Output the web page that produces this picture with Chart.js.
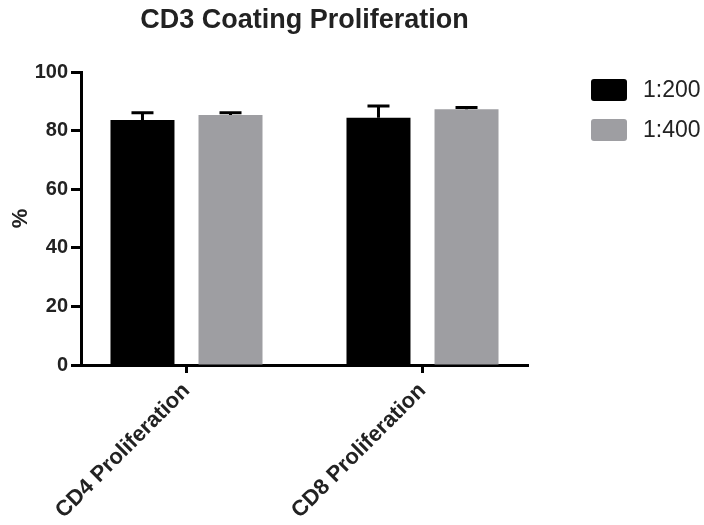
<!DOCTYPE html>
<html>
<head>
<meta charset="utf-8">
<script src="https://cdn.jsdelivr.net/npm/chart.js@4.4.1/dist/chart.umd.min.js"></script>
<style>
  html, body { margin: 0; padding: 0; background: #fff; }
  #wrap { width: 704px; height: 525px; }
</style>
</head>
<body>
<div id="wrap"><canvas id="myChart"></canvas></div>
<script>
const categories = ["CD4 Proliferation", "CD8 Proliferation"];
const seriesNames = ["1:200", "1:400"];
const values200 = [83.6, 84.4];
const errors200 = [2.5, 4.0];
const values400 = [85.3, 87.3];
const errors400 = [0.8, 0.6];
const yTicks = [0, 20, 40, 60, 80, 100];

const colors = ["#000000", "#9e9ea2"];
const fontName = "'Liberation Sans', Arial, sans-serif";

function points(vals) {
    return vals.map((v, i) => ({ x: i + 1, y: v }));
}

// draws upper error bars above each bar
const errorBars = {
    id: 'errorBars',
    afterDatasetsDraw(chart) {
        const c = chart.ctx;
        const y = chart.scales.y;
        chart.data.datasets.forEach((ds, di) => {
            const meta = chart.getDatasetMeta(di);
            meta.data.forEach((bar, i) => {
                const top = y.getPixelForValue(ds.data[i].y + ds.errors[i]);
                c.save();
                c.strokeStyle = '#000';
                c.lineWidth = 3;
                c.beginPath();
                c.moveTo(bar.x, bar.y);
                c.lineTo(bar.x, top);
                c.moveTo(bar.x - 11, top);
                c.lineTo(bar.x + 11, top);
                c.stroke();
                c.restore();
            });
        });
    }
};

// legend on the right, boxes + labels
const sideLegend = {
    id: 'sideLegend',
    afterDraw(chart) {
        const c = chart.ctx;
        c.save();
        chart.data.datasets.forEach((ds, i) => {
            const top = 79 + i * 40;
            c.fillStyle = ds.backgroundColor;
            c.beginPath();
            c.roundRect(591, top, 36, 22, 3);
            c.fill();
            c.fillStyle = '#222';
            c.font = '23px ' + fontName;
            c.textBaseline = 'middle';
            c.textAlign = 'left';
            c.fillText(ds.label, 643, top + 12);
        });
        c.restore();
    }
};

const ctx = document.getElementById('myChart');
new Chart(ctx, {
    type: 'bar',
    data: {
        datasets: [{
            label: seriesNames[0],
            data: points(values200),
            errors: errors200,
            backgroundColor: colors[0]
        }, {
            label: seriesNames[1],
            data: points(values400),
            errors: errors400,
            backgroundColor: colors[1]
        }]
    },
    options: {
        responsive: true,
        maintainAspectRatio: false,
        animation: false,
        categoryPercentage: 0.746,
        barPercentage: 0.727,
        layout: { padding: { left: 0, right: 176, top: 0, bottom: 0 } },
        plugins: {
            legend: { display: false },
            tooltip: { enabled: false },
            title: {
                display: true,
                fullSize: false,
                text: 'CD3 Coating Proliferation',
                color: '#222',
                font: { family: fontName, size: 27, weight: 'bold' },
                padding: { top: 4, bottom: 35.6 }
            }
        },
        scales: {
            x: {
                type: 'linear',
                offset: false,
                min: 0.553,
                max: 2.447,
                afterBuildTicks: (scale) => {
                    scale.ticks = categories.map((c, i) => ({ value: i + 1 }));
                },
                afterFit: (scale) => { scale.height = 160; },
                ticks: {
                    autoSkip: false,
                    minRotation: 45,
                    maxRotation: 45,
                    padding: 5,
                    color: '#222',
                    font: { family: fontName, size: 22, weight: 'bold' },
                    callback: (v) => categories[Math.round(v) - 1]
                },
                grid: {
                    offset: false,
                    drawOnChartArea: false,
                    tickLength: 8,
                    tickWidth: 3,
                    tickColor: '#000'
                },
                border: { display: true, color: '#000', width: 3 }
            },
            y: {
                min: 0,
                max: 100,
                afterBuildTicks: (scale) => {
                    scale.ticks = yTicks.map(v => ({ value: v }));
                },
                afterFit: (scale) => { scale.width = 81; },
                ticks: {
                    padding: 3,
                    color: '#222',
                    font: { family: fontName, size: 20, weight: 'bold' }
                },
                grid: {
                    drawOnChartArea: false,
                    tickLength: 10,
                    tickWidth: 3,
                    tickColor: '#000'
                },
                border: { display: true, color: '#000', width: 3 },
                title: {
                    display: true,
                    text: '%',
                    color: '#222',
                    font: { family: fontName, size: 22, weight: 'bold' },
                    padding: { top: 8, bottom: 0 }
                }
            }
        }
    },
    plugins: [errorBars, sideLegend]
});
</script>
</body>
</html>
